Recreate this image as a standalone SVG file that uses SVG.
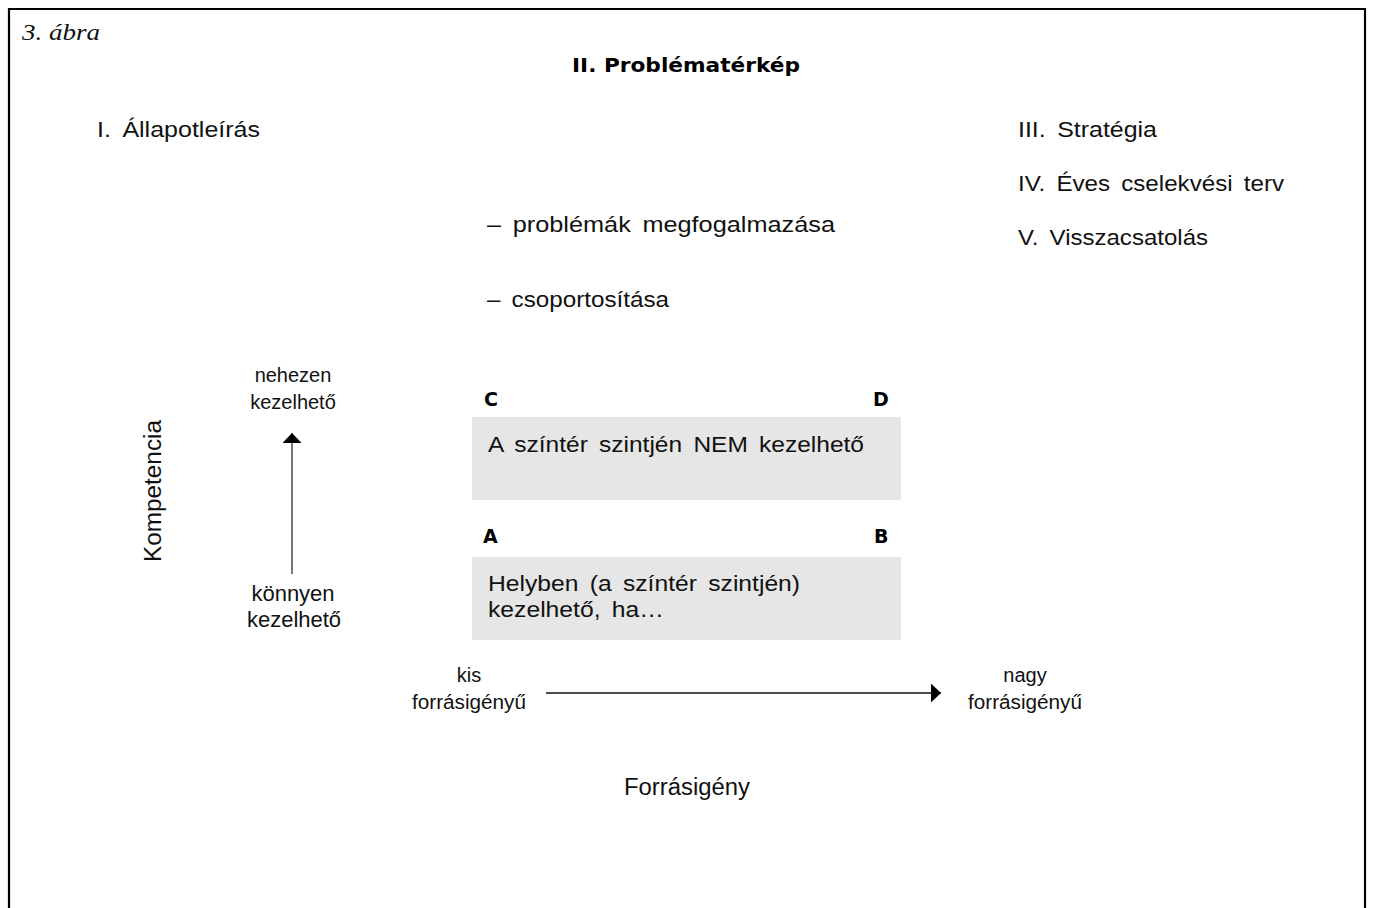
<svg xmlns="http://www.w3.org/2000/svg" width="1375" height="908" viewBox="0 0 1375 908">
  <style>
    .t { font-family: "Liberation Sans", Arial, sans-serif; fill: #111; }
    .h { font-size: 22px; word-spacing: 4px; }
    .s { font-size: 20px; }
    .m { font-size: 22px; }
    .b { font-family: "DejaVu Sans", "Liberation Sans", sans-serif; font-weight: bold; font-size: 19px; fill: #000; }
    .mid { text-anchor: middle; }
    .cap { font-family: "Liberation Serif", "Times New Roman", serif; font-style: italic; font-size: 24px; fill: #111; }
    .cell { fill: #e6e6e6; stroke: none; }
    .axis { stroke-width: 1.6; fill: none; }
  </style>
  <defs>
    <marker id="tip" viewBox="0 0 10 19" refX="10" refY="9.5" markerWidth="10" markerHeight="19" markerUnits="userSpaceOnUse" orient="auto">
      <path d="M0,0 L10,9.5 L0,19 Z" fill="#000"/>
    </marker>
  </defs>

  <rect width="1375" height="908" fill="#fff"/>
  <!-- frame, open at the bottom -->
  <path d="M9,920 V9 H1365 V920" fill="none" stroke="#000" stroke-width="2.2"/>

  <text class="cap" x="22" y="40" textLength="78" lengthAdjust="spacingAndGlyphs">3. ábra</text>
  <text class="b" x="572" y="72" font-size="21" textLength="228" lengthAdjust="spacingAndGlyphs">II. Problématérkép</text>

  <g id="stage-1">
    <text class="t h" x="97" y="137" word-spacing="7" textLength="163" lengthAdjust="spacingAndGlyphs">I. Állapotleírás</text>
  </g>
  <g id="stage-3">
    <text class="t h" x="1018" y="137" textLength="139" lengthAdjust="spacingAndGlyphs">III. Stratégia</text>
  </g>
  <g id="stage-4">
    <text class="t h" x="1018" y="191" textLength="266" lengthAdjust="spacingAndGlyphs">IV. Éves cselekvési terv</text>
  </g>
  <g id="stage-5">
    <text class="t h" x="1018" y="245" textLength="190" lengthAdjust="spacingAndGlyphs">V. Visszacsatolás</text>
  </g>

  <g id="steps">
    <text class="t h" x="487" y="232" textLength="348" lengthAdjust="spacingAndGlyphs">– problémák megfogalmazása</text>
    <text class="t h" x="487" y="307" textLength="182" lengthAdjust="spacingAndGlyphs">– csoportosítása</text>
  </g>

  <!-- vertical axis: competence -->
  <g id="axis-competence">
    <text class="t" font-size="23" transform="translate(161,491) rotate(-90)" text-anchor="middle" textLength="142" lengthAdjust="spacingAndGlyphs">Kompetencia</text>
    <text class="t s mid" x="293" y="382">nehezen</text>
    <text class="t s mid" x="293" y="409">kezelhető</text>
    <text class="t m mid" x="293" y="601">könnyen</text>
    <text class="t m mid" x="294" y="627">kezelhető</text>
  </g>

  <!-- horizontal axis: resource demand -->
  <g id="axis-resource">
    <text class="t s mid" x="469" y="682">kis</text>
    <text class="t s mid" x="469" y="709" textLength="114" lengthAdjust="spacingAndGlyphs">forrásigényű</text>
    <text class="t s mid" x="1025" y="682">nagy</text>
    <text class="t s mid" x="1025" y="709" textLength="114" lengthAdjust="spacingAndGlyphs">forrásigényű</text>
    <text class="t mid" font-size="23" x="687" y="795" textLength="126" lengthAdjust="spacingAndGlyphs">Forrásigény</text>
  </g>

  <g id="connectors">
    <line class="axis" x1="292" y1="574" x2="292" y2="433" stroke="#555" marker-end="url(#tip)"/>
    <line class="axis" x1="546" y1="693" x2="941" y2="693" stroke="#111" marker-end="url(#tip)"/>
  </g>

  <g id="cell-cd">
    <text class="b" x="484" y="406">C</text>
    <text class="b" x="873" y="406">D</text>
    <rect class="cell" x="472" y="417" width="429" height="83"/>
    <text class="t h" x="488" y="452" textLength="376" lengthAdjust="spacingAndGlyphs">A színtér szintjén NEM kezelhető</text>
  </g>

  <g id="cell-ab">
    <text class="b" x="483" y="543">A</text>
    <text class="b" x="874" y="543">B</text>
    <rect class="cell" x="472" y="557" width="429" height="83"/>
    <text class="t h" x="488" y="591" textLength="312" lengthAdjust="spacingAndGlyphs">Helyben (a színtér szintjén)</text>
    <text class="t h" x="488" y="617" textLength="176" lengthAdjust="spacingAndGlyphs">kezelhető, ha…</text>
  </g>
</svg>
